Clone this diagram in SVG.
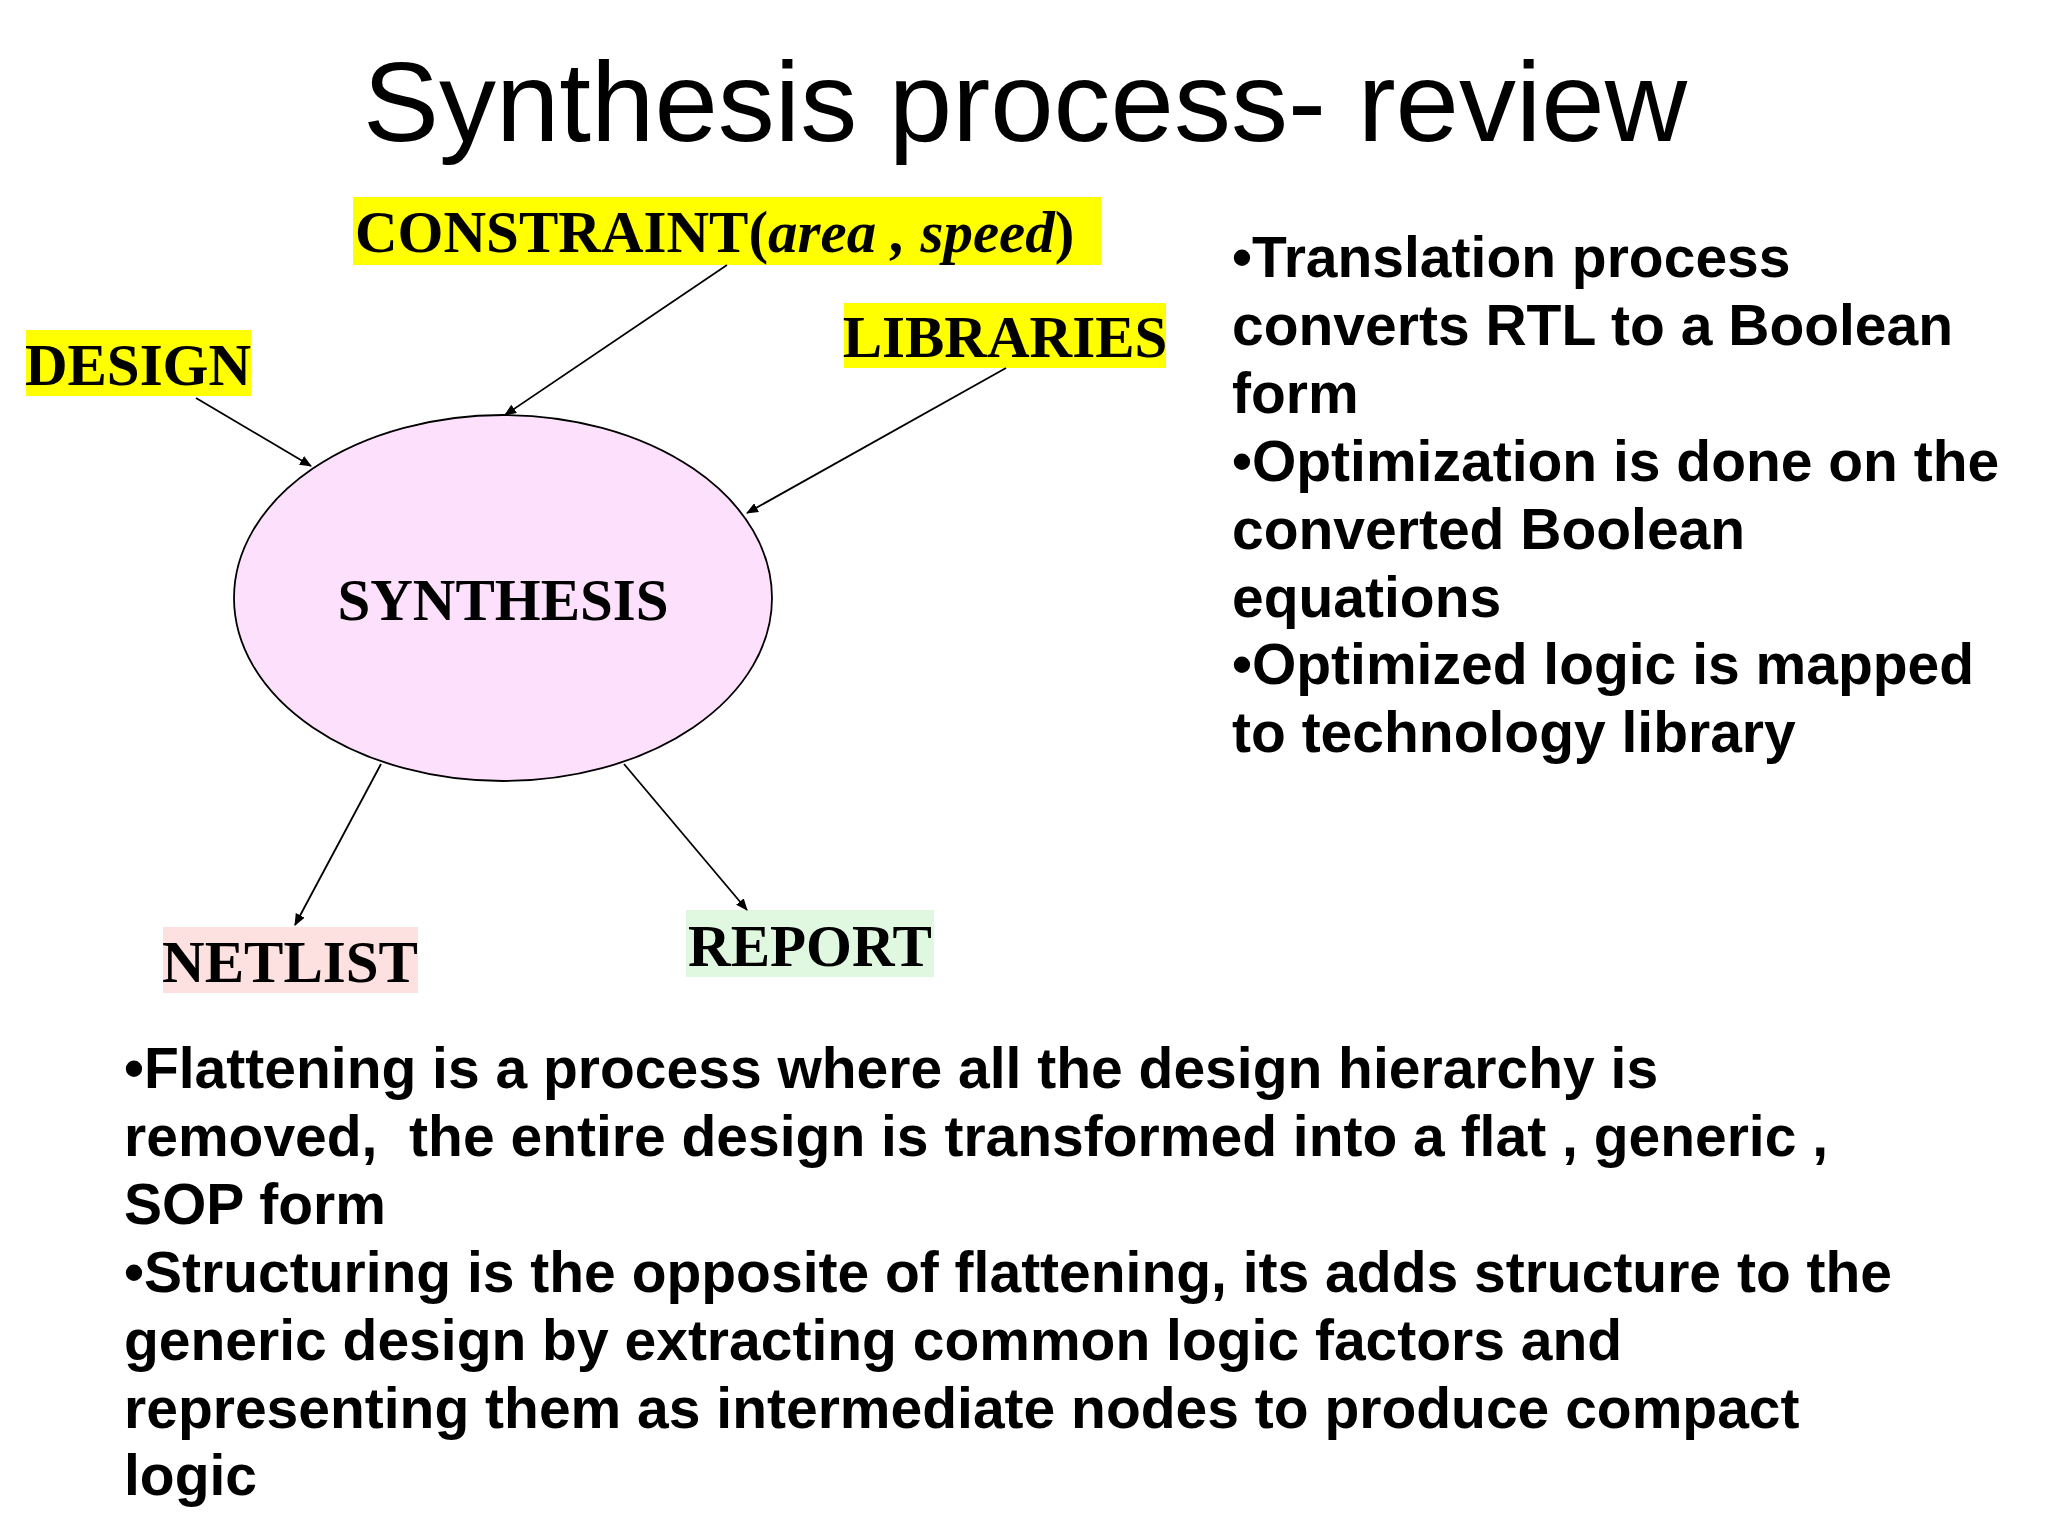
<svg xmlns="http://www.w3.org/2000/svg" width="2048" height="1536" viewBox="0 0 2048 1536">
<defs>
<marker id="ah" markerWidth="12" markerHeight="10" refX="11" refY="5" orient="auto" markerUnits="userSpaceOnUse"><path d="M0,0 L12,5 L0,10 Z" fill="#000"/></marker>
<style>
.lbl{font-family:"Liberation Serif",serif;font-weight:bold;font-size:59px;fill:#000}
.txt{font-family:"Liberation Sans",Arial,sans-serif;font-weight:bold;font-size:57px;fill:#000}
.ln{stroke:#000;stroke-width:1.8;fill:none;marker-end:url(#ah)}
</style>
</defs>
<rect width="2048" height="1536" fill="#fff"/>
<text x="1025" y="141" text-anchor="middle" font-family="Liberation Sans,Arial,sans-serif" font-size="114">Synthesis process- review</text>
<g id="constraint"><rect x="353" y="197" width="748" height="68" fill="#ffff00"/><text class="lbl" x="355" y="252">CONSTRAINT(<tspan font-style="italic">area , speed</tspan>)</text></g>
<g id="design"><rect x="26" y="330" width="225" height="66" fill="#ffff00"/><text class="lbl" x="138" y="385" text-anchor="middle">DESIGN</text></g>
<g id="libraries"><rect x="844" y="303" width="322" height="65" fill="#ffff00"/><text class="lbl" x="1005" y="357" text-anchor="middle">LIBRARIES</text></g>
<g id="synthesis"><ellipse cx="503" cy="598" rx="269" ry="183" fill="#fde0fb" stroke="#000" stroke-width="1.8"/><text class="lbl" x="503" y="620" text-anchor="middle">SYNTHESIS</text></g>
<g id="netlist"><rect x="163" y="927" width="255" height="66" fill="#fde0e0"/><text class="lbl" x="290" y="982" text-anchor="middle">NETLIST</text></g>
<g id="report"><rect x="686" y="910" width="248" height="67" fill="#e0f8e0"/><text class="lbl" x="810" y="966" text-anchor="middle">REPORT</text></g>
<g id="connectors">
<line class="ln" x1="727" y1="265" x2="505" y2="415"/>
<line class="ln" x1="196" y1="398" x2="311" y2="466"/>
<line class="ln" x1="1006" y1="368" x2="747" y2="513"/>
<line class="ln" x1="381" y1="764" x2="295" y2="925"/>
<line class="ln" x1="624" y1="764" x2="747" y2="910"/>
</g>
<g id="right-text">
<text class="txt" x="1232" y="277">•Translation process</text>
<text class="txt" x="1232" y="345">converts RTL to a Boolean</text>
<text class="txt" x="1232" y="413">form</text>
<text class="txt" x="1232" y="481">•Optimization is done on the</text>
<text class="txt" x="1232" y="549">converted Boolean</text>
<text class="txt" x="1232" y="617">equations</text>
<text class="txt" x="1232" y="684">•Optimized logic is mapped</text>
<text class="txt" x="1232" y="752">to technology library</text>
</g>
<g id="bottom-text">
<text class="txt" x="124" y="1088">•Flattening is a process where all the design hierarchy is</text>
<text class="txt" x="124" y="1156" xml:space="preserve">removed,  the entire design is transformed into a flat , generic ,</text>
<text class="txt" x="124" y="1224">SOP form</text>
<text class="txt" x="124" y="1292">•Structuring is the opposite of flattening, its adds structure to the</text>
<text class="txt" x="124" y="1360">generic design by extracting common logic factors and</text>
<text class="txt" x="124" y="1428">representing them as intermediate nodes to produce compact</text>
<text class="txt" x="124" y="1495">logic</text>
</g>
</svg>
